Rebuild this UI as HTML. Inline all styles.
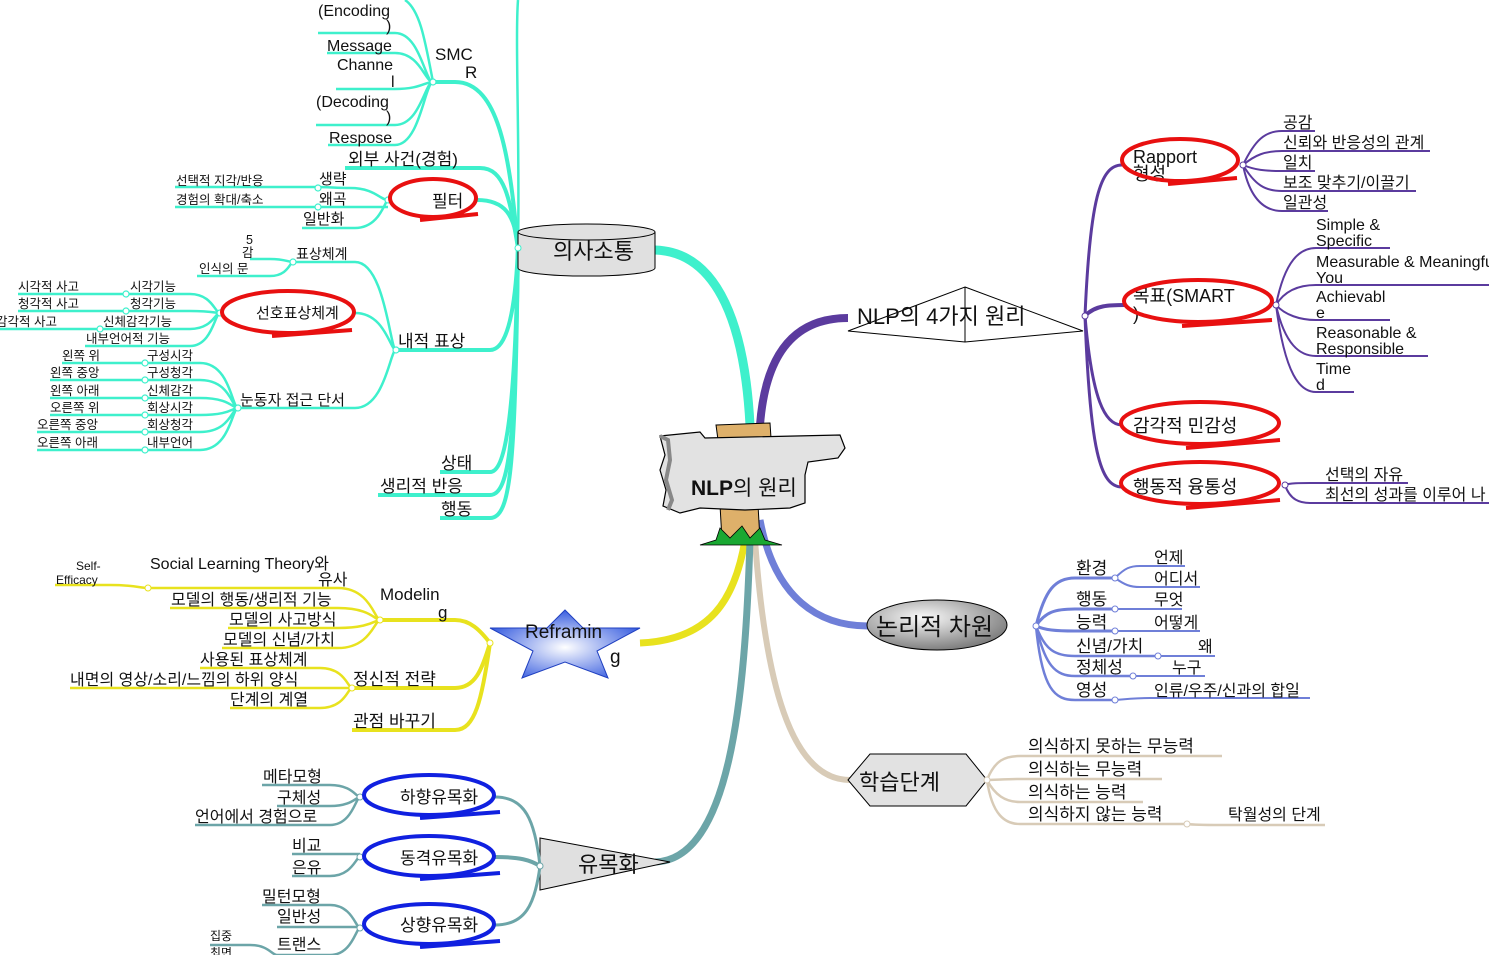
<!DOCTYPE html>
<html><head><meta charset="utf-8"><style>
html,body{margin:0;padding:0;background:#fff;}
svg{display:block;font-family:"Liberation Sans","Noto Sans CJK KR",sans-serif;}
text{fill:#111;}
.t{fill:none;stroke:#3ef0cc;stroke-width:2.5}
.p{fill:none;stroke:#5b3b9e;stroke-width:2}
.b{fill:none;stroke:#6f7fd8;stroke-width:2.5}
.n{fill:none;stroke:#d8cbb7;stroke-width:2.5}
.y{fill:none;stroke:#e8e21e;stroke-width:2.5}
.s{fill:none;stroke:#6ca5a8;stroke-width:2.5}
.re{fill:none;stroke:#e81010;stroke-width:4}
.be{fill:none;stroke:#1020e0;stroke-width:4}
</style></head><body>
<svg width="1489" height="955" viewBox="0 0 1489 955" xmlns="http://www.w3.org/2000/svg">
<defs>
<radialGradient id="el" cx="0.4" cy="0.35" r="0.7"><stop offset="0" stop-color="#fafafa"/><stop offset="1" stop-color="#777"/></radialGradient>
<radialGradient id="st" cx="0.5" cy="0.55" r="0.55"><stop offset="0" stop-color="#fff"/><stop offset="1" stop-color="#3a5fe0"/></radialGradient>
</defs>

<!-- main branches -->
<path d="M750 425 C745 330 720 252 655 250" fill="none" stroke="#3ef0cc" stroke-width="9"/>
<path d="M760 425 C765 360 790 318 848 318" fill="none" stroke="#5b3b9e" stroke-width="8"/>
<path d="M760 520 C775 600 820 626 868 626" fill="none" stroke="#6f7fd8" stroke-width="7"/>
<path d="M755 540 C765 680 790 780 850 780" fill="none" stroke="#d8cbb7" stroke-width="6"/>
<path d="M745 540 C735 600 710 640 640 643" fill="none" stroke="#e8e21e" stroke-width="7"/>
<path d="M750 540 C745 700 730 860 655 862" fill="none" stroke="#6ca5a8" stroke-width="7"/>

<!-- ===== teal ===== -->
<g class="t">
<path d="M518 248 C510 160 500 82 455 82 H435" stroke-width="4"/>
<path d="M518 248 C510 200 505 168 480 168 H345" stroke-width="4"/>
<path d="M518 248 C515 215 505 200 477 200" stroke-width="4"/>
<path d="M518 248 C515 320 505 350 490 350 H395" stroke-width="4"/>
<path d="M518 248 C515 420 505 472 490 472 H440" stroke-width="4"/>
<path d="M518 248 C515 440 510 495 490 495 H378" stroke-width="4"/>
<path d="M518 248 C515 460 512 518 490 518 H440" stroke-width="4"/>
<path d="M518 248 C520 150 515 40 518 0"/>
<path d="M433 82 C425 40 420 10 405 0"/>
<path d="M318 33 H395 C420 33 425 82 433 82"/>
<path d="M327 53 H395 C420 53 425 82 433 82"/>
<path d="M336 89 H395 C420 89 425 82 433 82"/>
<path d="M316 125 H395 C420 125 425 82 433 82"/>
<path d="M328 145 H395 C420 145 425 82 433 82"/>
<path d="M175 187 H315 C330 187 335 188 350 188 C375 188 380 200 388 200"/>
<path d="M175 207 H388"/>
<path d="M302 228 H355 C380 228 385 200 388 200"/>
<path d="M296 262 H355 C385 262 390 350 396 350"/>
<path d="M355 313 C385 313 390 350 396 350"/>
<path d="M240 408 H355 C385 408 390 350 396 350"/>
<path d="M250 259 H270 C285 259 288 262 293 262"/>
<path d="M197 276 H270 C288 276 290 262 293 262"/>
<path d="M18 294 H190 C212 294 215 313 220 313"/>
<path d="M18 311 H190 C212 311 215 313 220 313"/>
<path d="M0 329 H190 C212 329 215 313 220 313"/>
<path d="M85 346 H190 C212 346 215 313 220 313"/>
<path d="M62 363 H200 C230 363 232 408 238 408"/>
<path d="M50 380 H200 C230 380 232 408 238 408"/>
<path d="M50 398 H200 C230 398 232 408 238 408"/>
<path d="M50 415 H200 C230 415 232 408 238 408"/>
<path d="M37 432 H200 C230 432 232 408 238 408"/>
<path d="M37 450 H200 C230 450 232 408 238 408"/>
</g>
<g fill="#fff" stroke="#3ef0cc" stroke-width="1.2">
<circle cx="433" cy="82" r="3"/><circle cx="388" cy="200" r="3"/><circle cx="318" cy="188" r="3"/><circle cx="318" cy="207" r="3"/>
<circle cx="396" cy="350" r="3"/><circle cx="293" cy="262" r="3"/><circle cx="220" cy="313" r="3"/><circle cx="238" cy="408" r="3"/>
<circle cx="126" cy="294" r="3"/><circle cx="126" cy="311" r="3"/><circle cx="100" cy="329" r="3"/>
<circle cx="145" cy="363" r="3"/><circle cx="145" cy="380" r="3"/><circle cx="145" cy="398" r="3"/><circle cx="145" cy="415" r="3"/><circle cx="145" cy="432" r="3"/><circle cx="145" cy="450" r="3"/>
</g>
<g font-size="16">
<text x="318" y="16">(Encoding</text><text x="386" y="31">)</text>
<text x="327" y="51">Message</text><text x="337" y="70">Channe</text><text x="391" y="87">l</text>
<text x="316" y="107">(Decoding</text><text x="386" y="122">)</text>
<text x="329" y="143">Respose</text>
<text x="435" y="60" font-size="17">SMC</text><text x="465" y="78" font-size="17">R</text>
<text x="348" y="165" font-size="17">외부 사건(경험)</text>
<text x="319" y="184" font-size="15">생략</text><text x="319" y="204" font-size="15">왜곡</text><text x="303" y="224" font-size="15">일반화</text>
<text x="176" y="185" font-size="12.5">선택적 지각/반응</text><text x="176" y="204" font-size="12.5">경험의 확대/축소</text>
<text x="432" y="207" font-size="17">필터</text>
<text x="398" y="347" font-size="17">내적 표상</text>
<text x="296" y="259" font-size="14">표상체계</text>
<text x="246" y="244" font-size="12.5">5</text><text x="242" y="257" font-size="12.5">감</text>
<text x="199" y="273" font-size="12.5">인식의 문</text>
<text x="256" y="318" font-size="15">선호표상체계</text>
<text x="18" y="291" font-size="12.5">시각적 사고</text><text x="130" y="291" font-size="12.5">시각기능</text>
<text x="18" y="308" font-size="12.5">청각적 사고</text><text x="130" y="308" font-size="12.5">청각기능</text>
<text x="-4" y="326" font-size="12.5">감각적 사고</text><text x="103" y="326" font-size="12.5">신체감각기능</text>
<text x="86" y="343" font-size="12.5">내부언어적 기능</text>
<text x="240" y="405" font-size="15">눈동자 접근 단서</text>
<text x="62" y="360" font-size="12.5">왼쪽 위</text><text x="147" y="360" font-size="12.5">구성시각</text>
<text x="50" y="377" font-size="12.5">왼쪽 중앙</text><text x="147" y="377" font-size="12.5">구성청각</text>
<text x="50" y="395" font-size="12.5">왼쪽 아래</text><text x="147" y="395" font-size="12.5">신체감각</text>
<text x="50" y="412" font-size="12.5">오른쪽 위</text><text x="147" y="412" font-size="12.5">회상시각</text>
<text x="37" y="429" font-size="12.5">오른쪽 중앙</text><text x="147" y="429" font-size="12.5">회상청각</text>
<text x="37" y="447" font-size="12.5">오른쪽 아래</text><text x="147" y="447" font-size="12.5">내부언어</text>
<text x="441" y="469" font-size="17">상태</text><text x="380" y="492" font-size="17">생리적 반응</text><text x="441" y="515" font-size="17">행동</text>
</g>
<ellipse class="re" cx="433" cy="198" rx="43" ry="19"/>
<path class="re" d="M420 220 L478 214"/>
<ellipse class="re" cx="288" cy="312" rx="66" ry="21"/>
<path class="re" d="M272 336 L352 330"/>

<!-- 의사소통 cylinder -->
<path d="M518 232 V268 A68 8 0 0 0 655 268 V232" fill="#e0e0e0" stroke="#000" stroke-width="1"/>
<ellipse cx="586.5" cy="232" rx="68.5" ry="8" fill="#e0e0e0" stroke="#000" stroke-width="1"/>
<text x="553" y="259" font-size="22">의사소통</text>
<circle cx="518" cy="248" r="3" fill="#fff" stroke="#3ef0cc"/>

<!-- ===== purple ===== -->
<polygon points="965,287 1083,331 965,342 848,331" fill="#fff" stroke="#000" stroke-width="1"/>
<line x1="965" y1="287" x2="965" y2="342" stroke="#000" stroke-width="1"/>
<text x="857" y="324" font-size="22">NLP의 4가지 원리</text>
<g class="p">
<path d="M1085 316 C1090 200 1100 165 1122 165" stroke-width="3"/>
<path d="M1085 316 C1095 305 1110 305 1125 305" stroke-width="4"/>
<path d="M1085 316 C1092 400 1105 425 1122 425" stroke-width="3"/>
<path d="M1085 316 C1090 450 1100 487 1122 487" stroke-width="3"/>
<path d="M1243 165 C1255 140 1265 131 1282 131 H1315"/>
<path d="M1243 165 C1255 155 1265 151 1282 151 H1430"/>
<path d="M1243 165 C1255 170 1265 171 1282 171 H1315"/>
<path d="M1243 165 C1255 185 1265 191 1282 191 H1416"/>
<path d="M1243 165 C1250 200 1265 211 1282 211 H1328"/>
<path d="M1276 305 C1285 260 1300 248 1316 248 H1390"/>
<path d="M1276 305 C1285 290 1300 285 1316 285 H1489"/>
<path d="M1276 305 C1285 315 1300 320 1316 320 H1390"/>
<path d="M1276 305 C1285 345 1300 356 1316 356 H1428"/>
<path d="M1276 305 C1285 375 1300 392 1316 392 H1354"/>
<path d="M1285 485 C1290 483 1300 483 1310 483 H1408"/>
<path d="M1285 485 C1290 500 1300 503 1310 503 H1489"/>
</g>
<g fill="#fff" stroke="#5b3b9e"><circle cx="1085" cy="316" r="3"/><circle cx="1243" cy="165" r="3"/><circle cx="1276" cy="305" r="3"/><circle cx="1285" cy="485" r="3"/></g>
<g font-size="16">
<text x="1133" y="163" font-size="18">Rapport</text><text x="1133" y="180" font-size="18">형성</text>
<text x="1133" y="302" font-size="18">목표(SMART</text><text x="1133" y="320" font-size="18">)</text>
<text x="1133" y="432" font-size="18">감각적 민감성</text>
<text x="1133" y="493" font-size="18">행동적 융통성</text>
<text x="1283" y="128">공감</text><text x="1283" y="148">신뢰와 반응성의 관계</text><text x="1283" y="168">일치</text>
<text x="1283" y="188">보조 맞추기/이끌기</text><text x="1283" y="208">일관성</text>
<text x="1316" y="230">Simple &amp;</text><text x="1316" y="246">Specific</text>
<text x="1316" y="267">Measurable &amp; Meaningful</text><text x="1316" y="283">You</text>
<text x="1316" y="302">Achievabl</text><text x="1316" y="318">e</text>
<text x="1316" y="338">Reasonable &amp;</text><text x="1316" y="354">Responsible</text>
<text x="1316" y="374">Time</text><text x="1316" y="390">d</text>
<text x="1325" y="480">선택의 자유</text><text x="1325" y="500">최선의 성과를 이루어 나</text>
</g>
<ellipse class="re" cx="1180" cy="160" rx="58" ry="21"/><path class="re" d="M1168 184 L1237 178"/>
<ellipse class="re" cx="1198" cy="301" rx="74" ry="21"/><path class="re" d="M1182 326 L1272 320"/>
<ellipse class="re" cx="1200" cy="423" rx="79" ry="21"/><path class="re" d="M1186 448 L1280 440"/>
<ellipse class="re" cx="1200" cy="483" rx="79" ry="21"/><path class="re" d="M1186 508 L1280 500"/>

<!-- ===== blue ===== -->
<ellipse cx="937" cy="625" rx="70" ry="25" fill="url(#el)" stroke="#000" stroke-width="1"/>
<text x="876" y="635" font-size="24">논리적 차원</text>
<g class="b">
<path d="M1036 626 C1045 590 1055 578 1075 578 H1115" stroke-width="3"/>
<path d="M1036 626 C1045 612 1055 609 1075 609 H1115" stroke-width="3"/>
<path d="M1036 626 C1045 630 1055 631 1075 631 H1115" stroke-width="3"/>
<path d="M1036 626 C1045 650 1055 656 1075 656 H1158" stroke-width="2.5"/>
<path d="M1036 626 C1045 665 1055 676 1075 676 H1133" stroke-width="2.5"/>
<path d="M1036 626 C1042 690 1055 700 1075 700 H1115" stroke-width="2.5"/>
<path d="M1115 578 C1125 568 1130 566 1140 566 H1185" stroke-width="2"/>
<path d="M1115 578 C1125 585 1130 587 1140 587 H1200" stroke-width="2"/>
<path d="M1115 609 H1182" stroke-width="2"/><path d="M1115 631 H1200" stroke-width="2"/>
<path d="M1158 656 H1215" stroke-width="2"/><path d="M1133 676 H1205" stroke-width="2"/>
<path d="M1115 700 C1125 699 1135 698 1150 698 H1310" stroke-width="2"/>
</g>
<g fill="#fff" stroke="#6f7fd8"><circle cx="1036" cy="626" r="3"/><circle cx="1115" cy="578" r="3"/><circle cx="1115" cy="609" r="3"/><circle cx="1115" cy="631" r="3"/><circle cx="1158" cy="656" r="3"/><circle cx="1133" cy="676" r="3"/><circle cx="1115" cy="700" r="3"/></g>
<g font-size="17">
<text x="1076" y="574">환경</text><text x="1154" y="563" font-size="16">언제</text><text x="1154" y="584" font-size="16">어디서</text>
<text x="1076" y="605">행동</text><text x="1154" y="605" font-size="16">무엇</text>
<text x="1076" y="628">능력</text><text x="1154" y="628" font-size="16">어떻게</text>
<text x="1076" y="652">신념/가치</text><text x="1198" y="652" font-size="16">왜</text>
<text x="1076" y="673">정체성</text><text x="1172" y="673" font-size="16">누구</text>
<text x="1076" y="696">영성</text><text x="1154" y="696" font-size="16">인류/우주/신과의 합일</text>
</g>

<!-- ===== tan ===== -->
<polygon points="848,780 870,754 966,754 987,780 966,806 870,806" fill="#e2e2e2" stroke="#000" stroke-width="1"/>
<text x="859" y="790" font-size="22">학습단계</text>
<g class="n">
<path d="M987 780 C995 760 1005 756 1020 756 H1222"/>
<path d="M987 780 C995 780 1005 779 1020 779 H1162"/>
<path d="M987 780 C995 795 1005 802 1020 802 H1143"/>
<path d="M987 780 C992 815 1005 824 1020 824 H1187"/>
<path d="M1187 824 C1195 825 1205 825 1220 825 H1325"/>
</g>
<g fill="#fff" stroke="#d8cbb7"><circle cx="987" cy="780" r="3"/><circle cx="1187" cy="824" r="3"/></g>
<g font-size="17">
<text x="1028" y="752">의식하지 못하는 무능력</text><text x="1028" y="775">의식하는 무능력</text>
<text x="1028" y="798">의식하는 능력</text><text x="1028" y="820">의식하지 않는 능력</text>
<text x="1228" y="820" font-size="16">탁월성의 단계</text>
</g>

<!-- ===== yellow ===== -->
<polygon points="565,610 583,628 640,628 597,651 608,678 565,662 522,678 533,651 490,628 547,628" fill="url(#st)" stroke="#2040c0" stroke-width="1"/>
<text x="525" y="638" font-size="19">Reframin</text><text x="610" y="663" font-size="19">g</text>
<g class="y">
<path d="M490 643 C480 630 470 620 455 620 H380" stroke-width="4"/>
<path d="M490 643 C482 670 475 688 455 688 H352" stroke-width="4"/>
<path d="M490 643 C482 700 475 730 455 730 H352" stroke-width="4"/>
<path d="M148 588 H338 C370 588 375 620 380 620"/>
<path d="M170 608 H338 C370 608 375 620 380 620"/>
<path d="M228 628 H338 C370 628 375 620 380 620"/>
<path d="M222 648 H338 C370 648 375 620 380 620"/>
<path d="M55 585 H110 C135 585 140 588 148 588"/>
<path d="M200 668 H320 C345 668 348 688 352 688"/>
<path d="M70 688 H352"/>
<path d="M230 708 H320 C345 708 348 688 352 688"/>
</g>
<g fill="#fff" stroke="#e8e21e"><circle cx="490" cy="643" r="3"/><circle cx="380" cy="620" r="3"/><circle cx="352" cy="688" r="3"/><circle cx="148" cy="588" r="3"/></g>
<g font-size="16">
<text x="380" y="600" font-size="17">Modelin</text><text x="438" y="618" font-size="17">g</text>
<text x="150" y="569">Social Learning Theory와</text><text x="318" y="585">유사</text>
<text x="76" y="570" font-size="12">Self-</text><text x="56" y="584" font-size="12">Efficacy</text>
<text x="171" y="605">모델의 행동/생리적 기능</text><text x="229" y="625">모델의 사고방식</text><text x="223" y="645">모델의 신념/가치</text>
<text x="353" y="685" font-size="17">정신적 전략</text>
<text x="200" y="665">사용된 표상체계</text><text x="70" y="685">내면의 영상/소리/느낌의 하위 양식</text><text x="230" y="705">단계의 계열</text>
<text x="353" y="727" font-size="17">관점 바꾸기</text>
</g>

<!-- ===== slate ===== -->
<polygon points="540,838 670,862 540,890" fill="#e0e0e0" stroke="#000" stroke-width="1"/>
<text x="578" y="872" font-size="22">유목화</text>
<g class="s">
<path d="M540 866 C535 820 525 797 495 797" stroke-width="3"/>
<path d="M540 866 C530 860 520 857 495 857" stroke-width="4"/>
<path d="M540 866 C535 905 525 925 495 925" stroke-width="3"/>
<path d="M262 785 H330 C352 785 356 797 360 797"/>
<path d="M277 806 H330 C352 806 356 797 360 797"/>
<path d="M195 825 H330 C352 825 356 797 360 797"/>
<path d="M292 854 H360"/><path d="M292 876 H330 C352 876 356 857 360 857"/>
<path d="M262 905 H330 C352 905 356 928 360 928"/>
<path d="M277 927 H360"/>
<path d="M277 955 H330 C352 955 356 928 360 928"/>
<path d="M210 945 H250 C268 945 272 955 277 955"/>
</g>
<g fill="#fff" stroke="#6ca5a8"><circle cx="540" cy="866" r="3"/><circle cx="360" cy="797" r="3"/><circle cx="360" cy="857" r="3"/><circle cx="360" cy="928" r="3"/></g>
<g font-size="16">
<text x="263" y="782">메타모형</text><text x="277" y="803">구체성</text><text x="195" y="822">언어에서 경험으로</text>
<text x="292" y="851">비교</text><text x="292" y="873">은유</text>
<text x="262" y="902">밀턴모형</text><text x="277" y="922">일반성</text><text x="277" y="950">트랜스</text>
<text x="210" y="940" font-size="12">집중</text><text x="210" y="957" font-size="12">최면</text>
<text x="400" y="803" font-size="17">하향유목화</text><text x="400" y="864" font-size="17">동격유목화</text><text x="400" y="931" font-size="17">상향유목화</text>
</g>
<ellipse class="be" cx="429" cy="795" rx="65" ry="20"/><path class="be" d="M420 818 L500 812"/>
<ellipse class="be" cx="429" cy="856" rx="65" ry="20"/><path class="be" d="M420 879 L500 873"/>
<ellipse class="be" cx="429" cy="924" rx="65" ry="20"/><path class="be" d="M420 947 L500 941"/>

<!-- ===== center sign ===== -->
<polygon points="720,505 758,505 760,540 722,540" fill="#deb06a" stroke="#000" stroke-width="1"/>
<polygon points="716,425 770,423 771,438 718,440" fill="#deb06a" stroke="#000" stroke-width="1"/>
<path d="M660 436 L700 432 L705 438 L840 435 L845 448 L838 458 L808 462 L805 475 L805 503 L790 508 L745 510 L700 508 L680 513 L663 506 L666 490 L660 470 L665 455 Z" fill="#e2e2e2" stroke="#000" stroke-width="1.2"/>
<path d="M660 436 L668 440 L670 460 L666 480 L672 500 L668 510" fill="none" stroke="#888" stroke-width="4"/>
<path d="M700 545 L716 540 L720 528 L730 538 L742 526 L750 538 L760 528 L765 540 L782 545 Z" fill="#19a832" stroke="#000" stroke-width="0.8"/>
<text x="691" y="495" font-size="21" font-weight="bold" fill="#000">NLP</text>
<text x="733" y="495" font-size="21">의 원리</text>
</svg>
</body></html>
